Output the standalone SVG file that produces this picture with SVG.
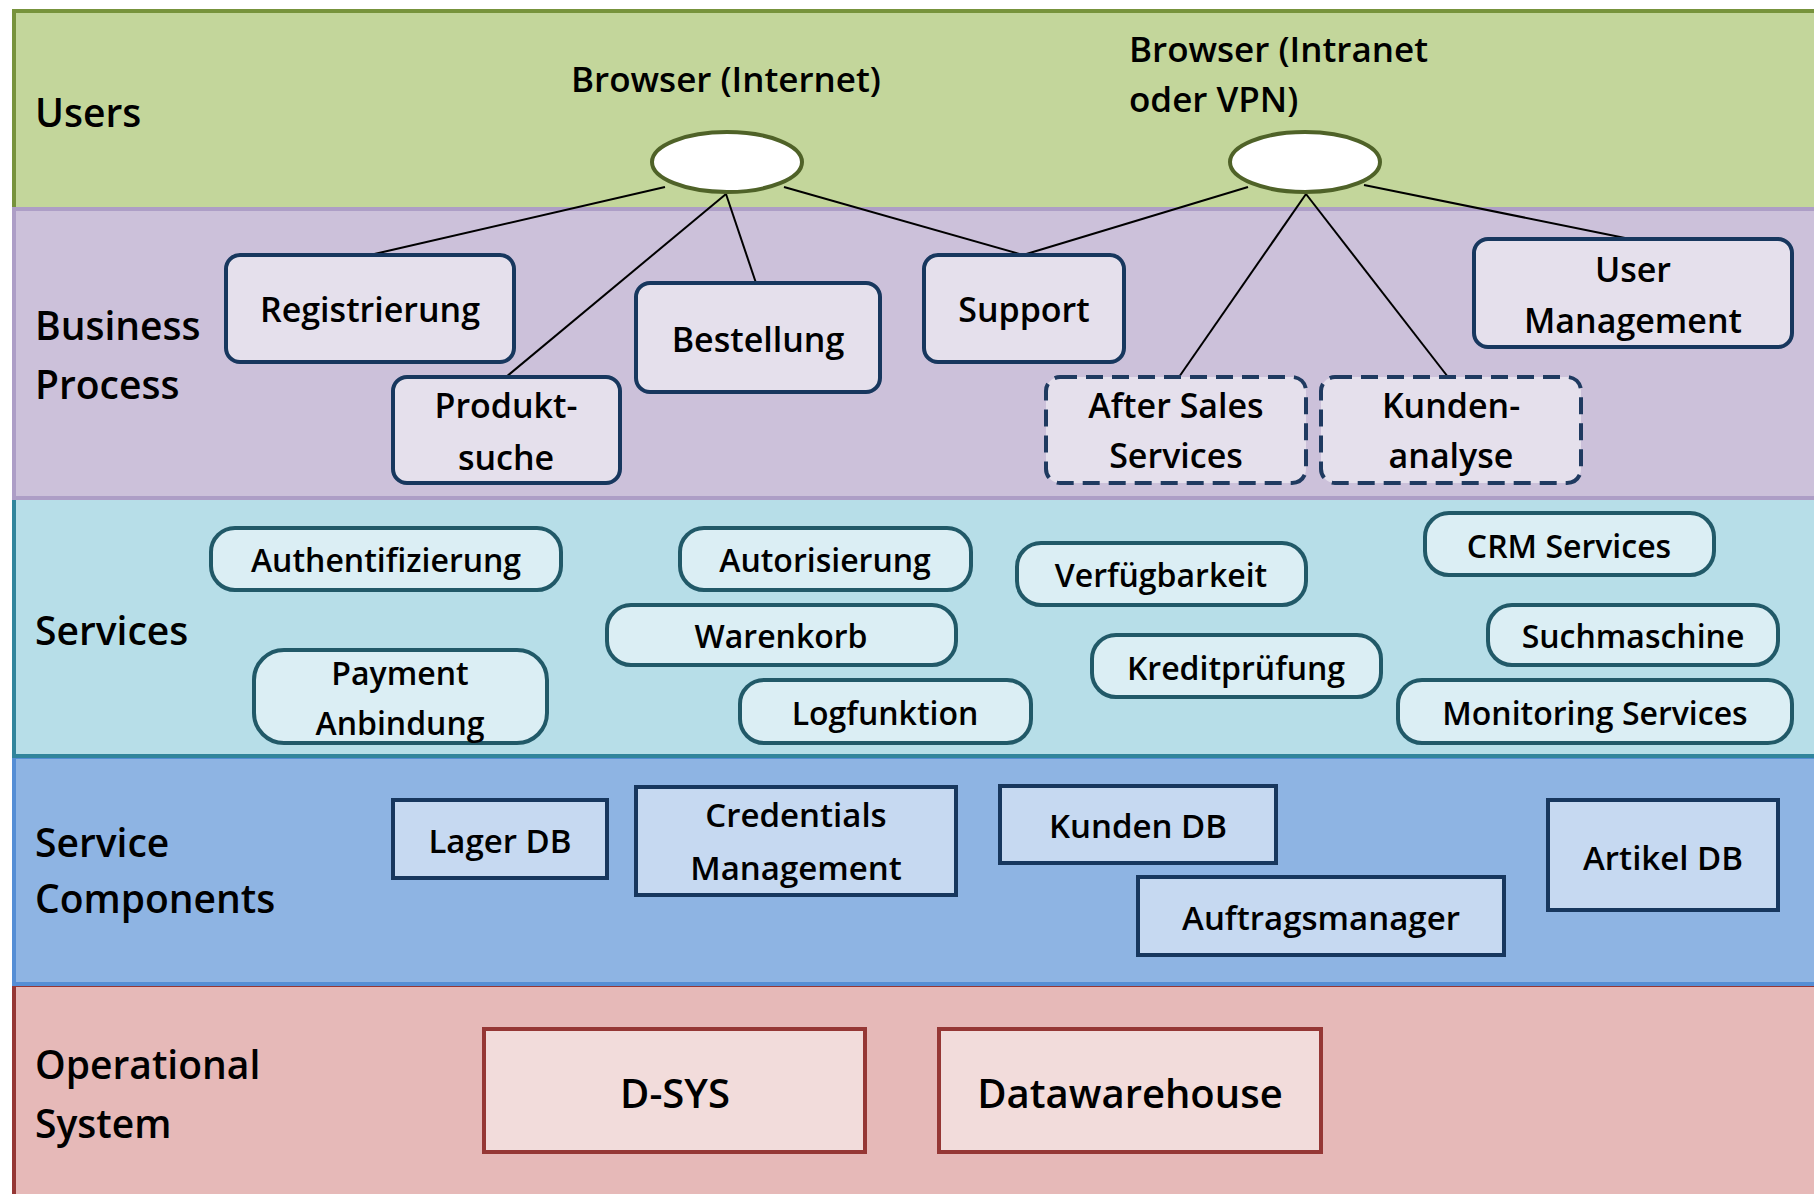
<svg xmlns="http://www.w3.org/2000/svg" width="1814" height="1194" viewBox="0 0 1814 1194">
<style>
text{font-family:"Open Sans","Noto Sans","Liberation Sans",sans-serif;fill:#000;font-weight:600}
.lbl{font-size:39px}
.bp{font-size:34px;text-anchor:middle}
.sv{font-size:32px;text-anchor:middle}
.sc{font-size:33px;text-anchor:middle}
.os{font-size:40px;text-anchor:middle}
.br{font-size:35px}
.bpbox{fill:#e5e0ec;stroke:#17375e;stroke-width:4}
.dash{fill:#e5e0ec;stroke:#1f3a60;stroke-width:4;stroke-dasharray:17 9}
.pill{fill:#dbeef4;stroke:#215968;stroke-width:4}
.scbox{fill:#c6d9f1;stroke:#17375e;stroke-width:4}
.osbox{fill:#f2dcdb;stroke:#953735;stroke-width:4}
.ell{fill:#ffffff;stroke:#4f6228;stroke-width:4}
.con{stroke:#000;stroke-width:2;fill:none}
</style>
<g id="bands">
<rect id="band-users" x="14" y="11" width="1810" height="198" fill="#c3d69b" stroke="#77933c" stroke-width="4"/>
<rect id="band-os" x="14" y="985" width="1810" height="220" fill="#e6b9b8" stroke="#953735" stroke-width="4"/>
<rect id="band-sc" x="14" y="757" width="1810" height="227" fill="#8eb4e3" stroke="#558ed5" stroke-width="4"/>
<rect id="band-services" x="14" y="498" width="1810" height="258" fill="#b7dee8" stroke="#31859c" stroke-width="4"/>
<rect id="band-bp" x="14" y="209" width="1810" height="289" fill="#ccc1da" stroke="#ad9ec6" stroke-width="4"/>
</g>
<g id="labels">
<text class="lbl" x="35" y="127">Users</text>
<text class="lbl" x="35" y="340">Business</text>
<text class="lbl" x="35" y="399">Process</text>
<text class="lbl" x="35" y="645">Services</text>
<text class="lbl" x="35" y="857">Service</text>
<text class="lbl" x="35" y="913">Components</text>
<text class="lbl" x="35" y="1079">Operational</text>
<text class="lbl" x="35" y="1138">System</text>
</g>
<g id="connectors">
<line class="con" x1="665" y1="187" x2="370" y2="255"/>
<line class="con" x1="726" y1="194" x2="506" y2="377"/>
<line class="con" x1="726" y1="194" x2="756" y2="283"/>
<line class="con" x1="784" y1="187" x2="1023" y2="255"/>
<line class="con" x1="1248" y1="187" x2="1023" y2="255"/>
<line class="con" x1="1306" y1="194" x2="1179" y2="377"/>
<line class="con" x1="1306" y1="194" x2="1448" y2="377"/>
<line class="con" x1="1364" y1="185" x2="1630" y2="239"/>
</g>
<g id="browser-internet">
<text class="br" x="726" y="92" text-anchor="middle">Browser (Internet)</text>
<ellipse class="ell" cx="727" cy="162" rx="75" ry="30"/>
</g>
<g id="browser-intranet">
<text class="br" x="1129" y="62">Browser (Intranet</text>
<text class="br" x="1129" y="112">oder VPN)</text>
<ellipse class="ell" cx="1305" cy="162" rx="75" ry="30"/>
</g>
<g id="registrierung">
<rect class="bpbox" x="226" y="255" width="288" height="107" rx="14"/>
<text class="bp" x="370" y="322">Registrierung</text>
</g>
<g id="bestellung">
<rect class="bpbox" x="636" y="283" width="244" height="109" rx="14"/>
<text class="bp" x="758" y="352">Bestellung</text>
</g>
<g id="produktsuche">
<rect class="bpbox" x="393" y="377" width="227" height="106" rx="14"/>
<text class="bp" x="506" y="418">Produkt-</text>
<text class="bp" x="506" y="470">suche</text>
</g>
<g id="support">
<rect class="bpbox" x="924" y="255" width="200" height="107" rx="14"/>
<text class="bp" x="1024" y="322">Support</text>
</g>
<g id="user-management">
<rect class="bpbox" x="1474" y="239" width="318" height="108" rx="14"/>
<text class="bp" x="1633" y="282">User</text>
<text class="bp" x="1633" y="333">Management</text>
</g>
<g id="after-sales">
<rect class="dash" x="1046" y="377" width="260" height="106" rx="14"/>
<text class="bp" x="1176" y="418">After Sales</text>
<text class="bp" x="1176" y="468">Services</text>
</g>
<g id="kundenanalyse">
<rect class="dash" x="1321" y="377" width="260" height="106" rx="14"/>
<text class="bp" x="1451" y="418">Kunden-</text>
<text class="bp" x="1451" y="468">analyse</text>
</g>
<g id="authentifizierung">
<rect class="pill" x="211" y="528" width="350" height="62" rx="24"/>
<text class="sv" x="386" y="572">Authentifizierung</text>
</g>
<g id="autorisierung">
<rect class="pill" x="680" y="528" width="291" height="62" rx="24"/>
<text class="sv" x="825" y="572">Autorisierung</text>
</g>
<g id="warenkorb">
<rect class="pill" x="607" y="605" width="349" height="60" rx="24"/>
<text class="sv" x="781" y="648">Warenkorb</text>
</g>
<g id="payment">
<rect class="pill" x="254" y="650" width="293" height="93" rx="30"/>
<text class="sv" x="400" y="685">Payment</text>
<text class="sv" x="400" y="735">Anbindung</text>
</g>
<g id="logfunktion">
<rect class="pill" x="740" y="680" width="291" height="63" rx="24"/>
<text class="sv" x="885" y="725">Logfunktion</text>
</g>
<g id="verfuegbarkeit">
<rect class="pill" x="1017" y="543" width="289" height="62" rx="24"/>
<text class="sv" x="1161" y="587">Verfügbarkeit</text>
</g>
<g id="crm-services">
<rect class="pill" x="1425" y="513" width="289" height="62" rx="24"/>
<text class="sv" x="1569" y="558">CRM Services</text>
</g>
<g id="suchmaschine">
<rect class="pill" x="1488" y="605" width="290" height="60" rx="24"/>
<text class="sv" x="1633" y="648">Suchmaschine</text>
</g>
<g id="kreditpruefung">
<rect class="pill" x="1092" y="635" width="289" height="62" rx="24"/>
<text class="sv" x="1236" y="680">Kreditprüfung</text>
</g>
<g id="monitoring">
<rect class="pill" x="1398" y="680" width="394" height="63" rx="24"/>
<text class="sv" x="1595" y="725">Monitoring Services</text>
</g>
<g id="lager-db">
<rect class="scbox" x="393" y="800" width="214" height="78"/>
<text class="sc" x="500" y="853">Lager DB</text>
</g>
<g id="credentials">
<rect class="scbox" x="636" y="787" width="320" height="108"/>
<text class="sc" x="796" y="827">Credentials</text>
<text class="sc" x="796" y="880">Management</text>
</g>
<g id="kunden-db">
<rect class="scbox" x="1000" y="786" width="276" height="77"/>
<text class="sc" x="1138" y="838">Kunden DB</text>
</g>
<g id="auftragsmanager">
<rect class="scbox" x="1138" y="877" width="366" height="78"/>
<text class="sc" x="1321" y="930">Auftragsmanager</text>
</g>
<g id="artikel-db">
<rect class="scbox" x="1548" y="800" width="230" height="110"/>
<text class="sc" x="1663" y="870">Artikel DB</text>
</g>
<g id="d-sys">
<rect class="osbox" x="484" y="1029" width="381" height="123"/>
<text class="os" x="675" y="1108">D-SYS</text>
</g>
<g id="datawarehouse">
<rect class="osbox" x="939" y="1029" width="382" height="123"/>
<text class="os" x="1130" y="1108">Datawarehouse</text>
</g>
</svg>
